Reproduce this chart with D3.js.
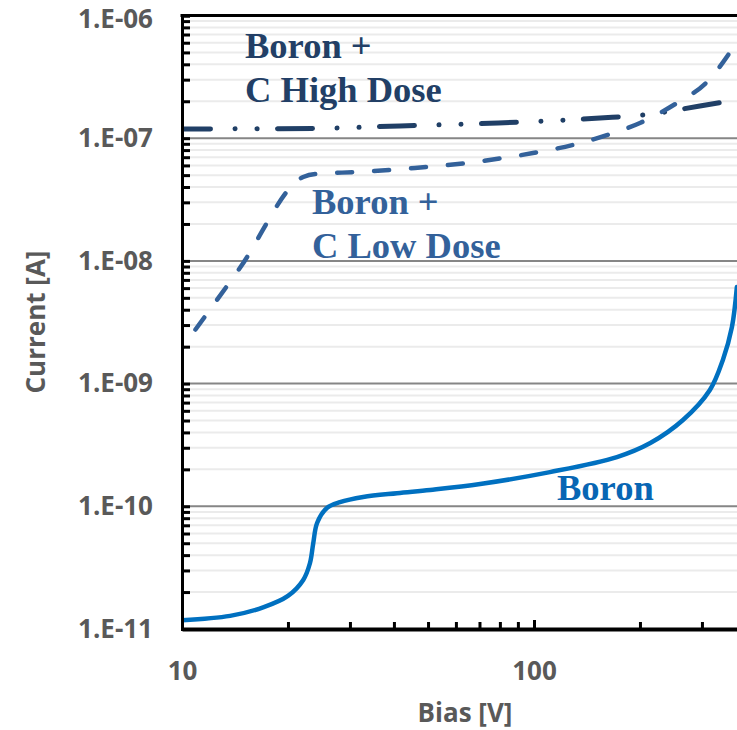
<!DOCTYPE html>
<html>
<head>
<meta charset="utf-8">
<script src="https://cdn.jsdelivr.net/npm/d3@7"></script>
<style>
  html, body { margin: 0; padding: 0; background: #ffffff; }
  svg { display: block; }
</style>
</head>
<body>
<svg id="chart" width="737" height="730"></svg>
<script>
// ---------------- data ----------------
const boronBias    = [10, 13.7, 17.0, 20.0, 22.1, 23.1, 23.6, 24.2, 25.8, 28.1, 32.7, 40.8, 50.7, 70.3, 111, 172, 214, 265, 316, 344, 365, 377];
const boronCurrent = [1.18e-11, 1.28e-11, 1.50e-11, 1.86e-11, 2.51e-11, 3.45e-11, 5.02e-11, 7.31e-11, 9.68e-11, 1.08e-10, 1.19e-10, 1.28e-10, 1.36e-10, 1.52e-10, 1.90e-10, 2.52e-10, 3.28e-10, 5.05e-10, 8.87e-10, 1.56e-9, 2.89e-9, 6.13e-9];

const lowDoseBias    = [10, 14.6, 22.1, 23.9, 32.0, 45.9, 64.5, 99.3, 129, 161, 200, 255, 310, 377];
const lowDoseCurrent = [1.95e-9, 8.75e-9, 4.83e-8, 5.11e-8, 5.31e-8, 5.72e-8, 6.28e-8, 7.57e-8, 8.81e-8, 1.06e-7, 1.33e-7, 1.94e-7, 2.87e-7, 6.08e-7];

const highDoseBias    = [10, 23.6, 41.6, 79.1, 154, 214, 296, 377];
const highDoseCurrent = [1.19e-7, 1.20e-7, 1.26e-7, 1.33e-7, 1.46e-7, 1.57e-7, 1.83e-7, 2.05e-7];

const yMajorTicks  = [1e-11, 1e-10, 1e-9, 1e-8, 1e-7, 1e-6];
const yTickLabels  = ["1.E-11", "1.E-10", "1.E-09", "1.E-08", "1.E-07", "1.E-06"];
const xMajorTicks  = [10, 100];
const xTickLabels  = ["10", "100"];
const xAxisTitle   = "Bias [V]";
const yAxisTitle   = "Current [A]";
const seriesLabels = [["Boron +", "C High Dose"], ["Boron +", "C Low Dose"], ["Boron"]];

// ---------------- layout ----------------
const svg = d3.select("#chart");
const W = 737, H = 730;
const plotLeft = 182, plotBottom = 629, plotTop = 15.5;
const decadeX = 352;

const x = d3.scaleLog().domain([10, 400]).range([plotLeft, plotLeft + decadeX * Math.log10(40)]);
const y = d3.scaleLog().domain([1e-11, 1e-6]).range([plotBottom, plotTop]);

const axisFont = "'Open Sans', 'DejaVu Sans', sans-serif";
const grey = "#595959";

// minor tick values
const yMinor = [];
for (let e = -11; e < -6; e++) for (let m = 2; m <= 9; m++) yMinor.push(m * Math.pow(10, e));
const xMinor = [];
for (let e = 1; e < 3; e++) for (let m = 2; m <= 9; m++) { const v = m * Math.pow(10, e); if (v <= 400) xMinor.push(v); }

// ---------------- grid ----------------
svg.append("g").selectAll("line").data(yMinor).join("line")
  .attr("x1", plotLeft).attr("x2", W)
  .attr("y1", d => y(d)).attr("y2", d => y(d))
  .attr("stroke", "#ebebeb").attr("stroke-width", 2);

svg.append("g").selectAll("line").data(yMajorTicks.slice(1, -1)).join("line")
  .attr("x1", plotLeft).attr("x2", W)
  .attr("y1", d => y(d)).attr("y2", d => y(d))
  .attr("stroke", "#868686").attr("stroke-width", 2);

// top border
svg.append("line").attr("x1", plotLeft - 1.5).attr("x2", W)
  .attr("y1", y(1e-6)).attr("y2", y(1e-6))
  .attr("stroke", "#000").attr("stroke-width", 3);

// ---------------- series ----------------
const zip = (a, b) => a.map((v, i) => [v, b[i]]);
const lineMono = d3.line().x(d => x(d[0])).y(d => y(d[1])).curve(d3.curveMonotoneX);
const lineSmooth = d3.line().x(d => x(d[0])).y(d => y(d[1])).curve(d3.curveCatmullRom.alpha(0.5));

svg.append("defs").append("clipPath").attr("id", "plotclip")
  .append("rect").attr("x", plotLeft).attr("y", 0).attr("width", W - plotLeft).attr("height", plotBottom);

const plot = svg.append("g").attr("clip-path", "url(#plotclip)");

plot.append("path").datum(zip(highDoseBias, highDoseCurrent))
  .attr("d", lineMono).attr("fill", "none")
  .attr("stroke", "#203F66").attr("stroke-width", 5)
  .attr("stroke-linecap", "round")
  .attr("stroke-dasharray", "35,24.5,0.1,21.9,0.1,20.4")
  .attr("stroke-dashoffset", 6.5);

plot.append("path").datum(zip(lowDoseBias, lowDoseCurrent))
  .attr("d", lineMono).attr("fill", "none")
  .attr("stroke", "#33619A").attr("stroke-width", 4.5)
  .attr("stroke-linecap", "round")
  .attr("stroke-dasharray", "15,22")
  .attr("stroke-dashoffset", 14);

plot.append("path").datum(zip(boronBias, boronCurrent))
  .attr("d", lineSmooth).attr("fill", "none")
  .attr("stroke", "#0070C0").attr("stroke-width", 4.5)
  .attr("stroke-linecap", "round");

// ---------------- axes ----------------
const yAxis = d3.axisLeft(y)
  .tickValues(yMajorTicks.concat(yMinor))
  .tickSize(-8).tickPadding(29)
  .tickFormat(d => { const i = yMajorTicks.findIndex(v => Math.abs(v - d) / v < 1e-6); return i >= 0 ? yTickLabels[i] : ""; });

const gy = svg.append("g").attr("transform", `translate(${plotLeft},0)`).call(yAxis);
gy.select(".domain").attr("stroke", "#000").attr("stroke-width", 3);
gy.selectAll(".tick line").attr("stroke", "#000").attr("stroke-width", 3);
gy.selectAll(".tick text")
  .attr("fill", grey).attr("font-family", axisFont)
  .attr("font-weight", "bold").attr("font-size", 26)
  .attr("dy", d => Math.abs(d - 1e-6) < 1e-12 ? "0.45em" : "0.32em");

const xAxis = d3.axisBottom(x)
  .tickValues(xMajorTicks.concat(xMinor))
  .tickSize(0).tickPadding(33)
  .tickFormat(d => { const i = xMajorTicks.indexOf(d); return i >= 0 ? xTickLabels[i] : ""; });

const gx = svg.append("g").attr("transform", `translate(0,${plotBottom})`).call(xAxis);
gx.select(".domain").attr("stroke", "#000").attr("stroke-width", 4);
gx.selectAll(".tick line")
  .attr("y2", d => xMajorTicks.includes(d) ? -9 : -7)
  .attr("stroke", "#000").attr("stroke-width", 3);
gx.selectAll(".tick text")
  .attr("fill", grey).attr("font-family", axisFont)
  .attr("font-weight", "bold").attr("font-size", 26);

// axis titles
svg.append("text").text(xAxisTitle)
  .attr("x", 465).attr("y", 722)
  .attr("text-anchor", "middle")
  .attr("fill", grey).attr("font-family", axisFont)
  .attr("font-weight", "bold").attr("font-size", 26);

svg.append("text").text(yAxisTitle)
  .attr("transform", "translate(45,322) rotate(-90)")
  .attr("text-anchor", "middle")
  .attr("fill", grey).attr("font-family", axisFont)
  .attr("font-weight", "bold").attr("font-size", 26);

// ---------------- series labels ----------------
const serif = "'Liberation Serif', 'Times New Roman', serif";
function label(lines, lx, ly, color) {
  const t = svg.append("text").attr("font-family", serif).attr("font-weight", "bold")
    .attr("font-size", 36.5).attr("fill", color);
  lines.forEach((s, i) => t.append("tspan").attr("x", lx).attr("y", ly + i * 43.5).text(s));
}
label(seriesLabels[0], 245, 58, "#223F66");
label(seriesLabels[1], 312, 214, "#33619A");
label(seriesLabels[2], 557, 500, "#0866B4");
</script>
</body>
</html>
